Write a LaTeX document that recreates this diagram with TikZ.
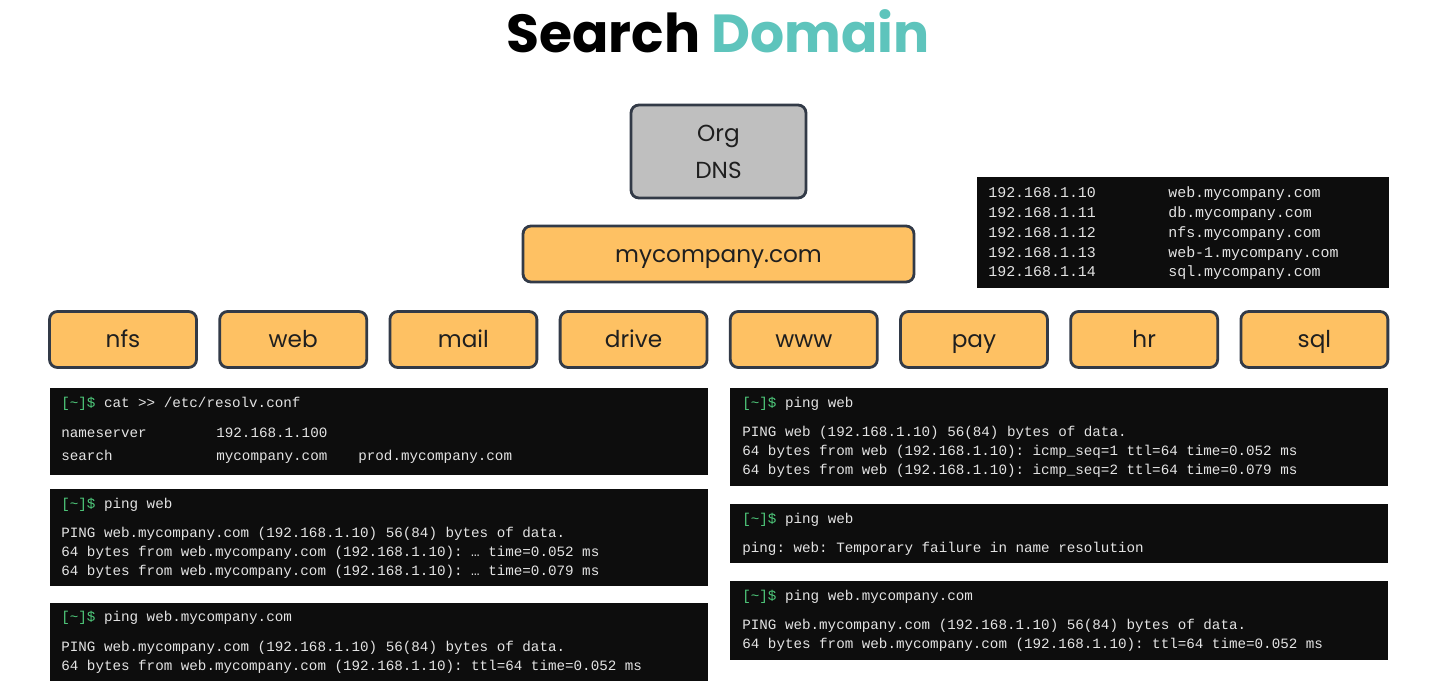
\documentclass[tikz,border=0pt]{standalone}
\usepackage{fontspec}
\setmainfont{Poppins}
\setmonofont{Liberation Mono}

\definecolor{orangebox}{HTML}{FEC163}
\definecolor{graybox}{HTML}{BFBFBF}
\definecolor{boxline}{HTML}{323A47}
\definecolor{termbg}{HTML}{0D0D0D}
\definecolor{termtext}{HTML}{E4E4E4}
\definecolor{promptgreen}{HTML}{4FCB7C}
\definecolor{titleteal}{HTML}{5EC4BC}

\newcommand{\prompt}{\textcolor{promptgreen}{[\textasciitilde]\$}}

\tikzset{
  domainbox/.style={draw=boxline, line width=1.6pt, rounded corners=4.5pt, fill=orangebox,
    text=black!88, font=\fontsize{13.2}{18}\selectfont, inner sep=0pt,
    text height=11pt, text depth=1.6pt},
  terminal/.style={fill=termbg, anchor=north west, inner sep=0pt},
  termline/.style={anchor=base west, inner sep=0pt, text=termtext,
    font=\ttfamily\fontsize{8.1}{10}\selectfont},
}

\begin{document}
\begin{tikzpicture}[x=0.02cm,y=-0.02cm]
\useasboundingbox[fill=white] (0,0) rectangle (1434,685);

\node[anchor=base, inner sep=0pt, font=\bfseries\fontsize{30.5}{36}\selectfont]
  (title) at (718,53) {Search \textcolor{titleteal}{Domain}};

\node[domainbox, fill=graybox, minimum width=3.5cm, minimum height=1.86cm, align=center,
  text height=, text depth=, font=\fontsize{13.2}{21}\selectfont] (orgdns) at (718.5,151.5) {Org\\DNS};
\node[domainbox, minimum width=7.82cm, minimum height=1.12cm] (mycompany) at (718.5,254) {mycompany.com};

\foreach \name [count=\i from 0] in {nfs,web,mail,drive,www,pay,hr,sql}
  \node[domainbox, minimum width=2.94cm, minimum height=1.12cm] (\name) at (123+\i*170.2,339.5) {\name};

% hosts table
\node[terminal, minimum width=8.24cm, minimum height=2.22cm] (hosts) at (977,177) {};
\foreach \ip/\host [count=\i from 0] in {10/web,11/db,12/nfs,13/web-1,14/sql} {
  \node[termline, font=\ttfamily\fontsize{8.5}{10}\selectfont] (ip\i) at (988,198+\i*19.7) {192.168.1.\ip};
  \node[termline, font=\ttfamily\fontsize{8.5}{10}\selectfont] (host\i) at (1168,198+\i*19.7) {\host.mycompany.com};
}

% left terminals
\node[terminal, minimum width=13.16cm, minimum height=1.74cm] (resolv) at (50,388) {};
\node[termline] (r0) at (61,408) {\prompt{} cat {>}{>} /etc/resolv.conf};
\node[termline] (r1) at (61,438) {nameserver};
\node[termline] (r2) at (216,438) {192.168.1.100};
\node[termline] (r3) at (61,461) {search};
\node[termline] (r4) at (216,461) {mycompany.com};
\node[termline] (r5) at (358,461) {prod.mycompany.com};

\node[terminal, minimum width=13.16cm, minimum height=1.94cm] (pingone) at (50,489) {};
\node[termline] (a0) at (61,509) {\prompt{} ping web};
\node[termline] (a1) at (61,538) {PING web.mycompany.com (192.168.1.10) 56(84) bytes of data.};
\node[termline] (a2) at (61,557) {64 bytes from web.mycompany.com (192.168.1.10): … time=0.052 ms};
\node[termline] (a3) at (61,576) {64 bytes from web.mycompany.com (192.168.1.10): … time=0.079 ms};

\node[terminal, minimum width=13.16cm, minimum height=1.56cm] (pingtwo) at (50,603) {};
\node[termline] (b0) at (61,622) {\prompt{} ping web.mycompany.com};
\node[termline] (b1) at (61,652) {PING web.mycompany.com (192.168.1.10) 56(84) bytes of data.};
\node[termline] (b2) at (61,671) {64 bytes from web.mycompany.com (192.168.1.10): ttl=64 time=0.052 ms};

% right terminals
\node[terminal, minimum width=13.16cm, minimum height=1.96cm] (pingthree) at (730,388) {};
\node[termline] (c0) at (742,408) {\prompt{} ping web};
\node[termline] (c1) at (742,437) {PING web (192.168.1.10) 56(84) bytes of data.};
\node[termline] (c2) at (742,456) {64 bytes from web (192.168.1.10): icmp\_seq=1 ttl=64 time=0.052 ms};
\node[termline] (c3) at (742,475) {64 bytes from web (192.168.1.10): icmp\_seq=2 ttl=64 time=0.079 ms};

\node[terminal, minimum width=13.16cm, minimum height=1.18cm] (pingfour) at (730,504) {};
\node[termline] (d0) at (742,524) {\prompt{} ping web};
\node[termline] (d1) at (742,553) {ping: web: Temporary failure in name resolution};

\node[terminal, minimum width=13.16cm, minimum height=1.58cm] (pingfive) at (730,581) {};
\node[termline] (e0) at (742,601) {\prompt{} ping web.mycompany.com};
\node[termline] (e1) at (742,630) {PING web.mycompany.com (192.168.1.10) 56(84) bytes of data.};
\node[termline] (e2) at (742,649) {64 bytes from web.mycompany.com (192.168.1.10): ttl=64 time=0.052 ms};

\end{tikzpicture}
\end{document}
